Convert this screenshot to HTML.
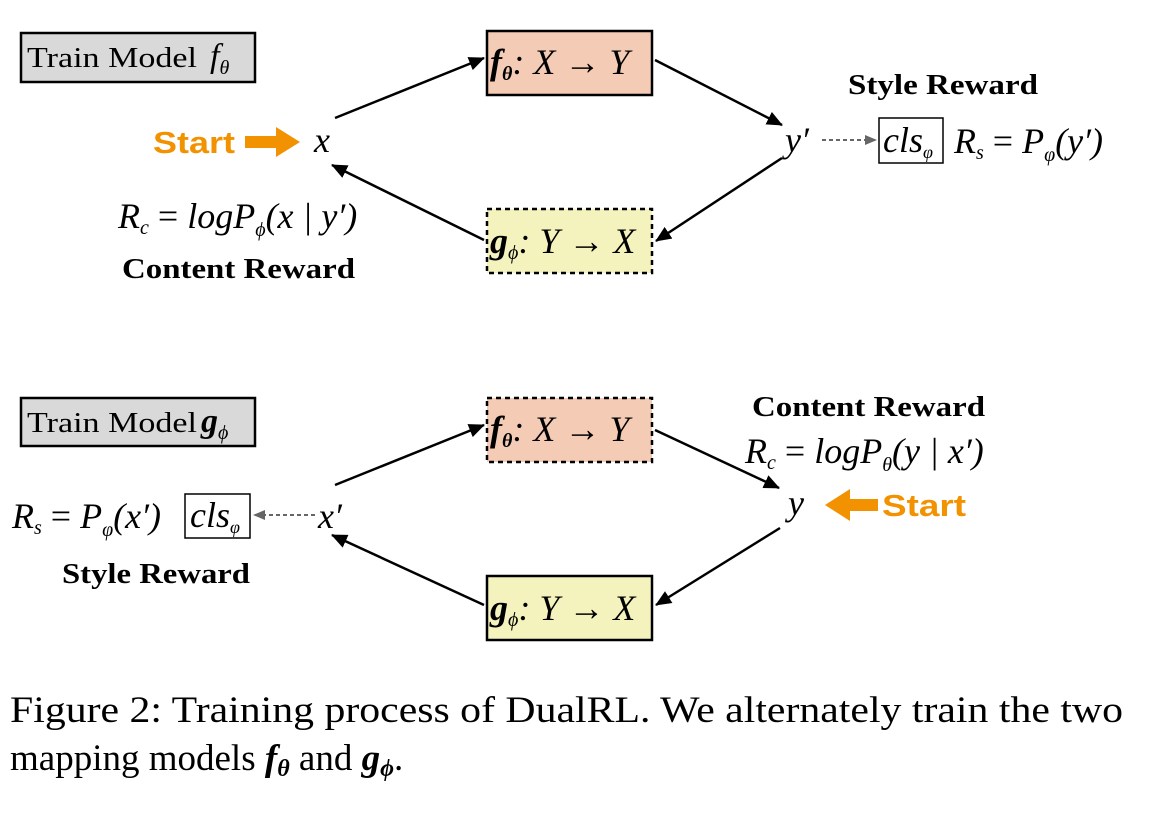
<!DOCTYPE html>
<html><head><meta charset="utf-8"><style>
html,body{margin:0;padding:0;background:#fff;}
svg{display:block;font-family:"Liberation Serif",serif;}
.m{font-style:italic;font-size:36px;}
.b{font-weight:bold;font-size:29px;}
.s{font-family:"Liberation Sans",sans-serif;font-weight:bold;fill:#f39200;font-size:31px;}
</style></head><body>
<svg width="1153" height="813" viewBox="0 0 1153 813">
<defs>
<marker id="a" markerWidth="16" markerHeight="14" refX="15" refY="7" orient="auto" markerUnits="userSpaceOnUse"><path d="M0,0 L16,7 L0,14 z" fill="#000"/></marker>
<marker id="g" markerWidth="12" markerHeight="12" refX="11" refY="6" orient="auto" markerUnits="userSpaceOnUse"><path d="M0,1 L12,6 L0,11 z" fill="#666"/></marker>
</defs>
<!-- TOP -->
<rect x="21" y="33" width="234" height="49" fill="#d9d9d9" stroke="#000" stroke-width="2.5"/>
<text x="27" y="67" font-size="29" textLength="170" lengthAdjust="spacingAndGlyphs">Train Model</text>
<text x="210" y="67" font-style="italic" font-size="34">f<tspan font-size="20" dy="7">θ</tspan></text>
<rect x="487" y="31" width="165" height="64" fill="#f4cbb5" stroke="#000" stroke-width="2.5"/>
<text x="490" y="74" class="m"><tspan font-weight="bold">f</tspan><tspan font-size="20" font-weight="bold" dy="6">θ</tspan><tspan dy="-6">: X → Y</tspan></text>
<rect x="487" y="209" width="165" height="64" fill="#f5f3bd" stroke="#000" stroke-width="2.5" stroke-dasharray="5,4"/>
<text x="490" y="253" class="m"><tspan font-weight="bold">g</tspan><tspan font-size="20" dy="6">ϕ</tspan><tspan dy="-6">: Y → X</tspan></text>
<text x="153" y="153" class="s" textLength="82" lengthAdjust="spacingAndGlyphs">Start</text>
<path d="M245,136 H276 V127 L300,142 L276,157 V148 H245z" fill="#f39200"/>
<text x="314" y="152" class="m" font-size="40">x</text>
<line x1="335" y1="118" x2="484" y2="58" stroke="#000" stroke-width="2.5" marker-end="url(#a)"/>
<line x1="484" y1="240" x2="332" y2="165" stroke="#000" stroke-width="2.5" marker-end="url(#a)"/>
<line x1="655" y1="60" x2="782" y2="125" stroke="#000" stroke-width="2.5" marker-end="url(#a)"/>
<line x1="782" y1="158" x2="656" y2="241" stroke="#000" stroke-width="2.5" marker-end="url(#a)"/>
<text x="785" y="152" class="m" font-size="42">y′</text>
<line x1="822" y1="140" x2="876" y2="140" stroke="#666" stroke-width="2" stroke-dasharray="4,3" marker-end="url(#g)"/>
<rect x="879" y="118" width="64" height="45" fill="none" stroke="#000" stroke-width="1.5"/>
<text x="883" y="152" class="m" font-size="32">cls<tspan font-size="18" dy="6">φ</tspan></text>
<text x="954" y="153" class="m">R<tspan font-size="20" dy="6">s</tspan><tspan dy="-6" font-style="normal"> = </tspan>P<tspan font-size="20" dy="8">φ</tspan><tspan dy="-8">(y′)</tspan></text>
<text x="848" y="94" class="b" textLength="190" lengthAdjust="spacingAndGlyphs">Style Reward</text>
<text x="118" y="228" class="m">R<tspan font-size="20" dy="6">c</tspan><tspan dy="-6" font-style="normal"> = </tspan>logP<tspan font-size="20" dy="8">ϕ</tspan><tspan dy="-8">(x | y′)</tspan></text>
<text x="122" y="278" class="b" textLength="233" lengthAdjust="spacingAndGlyphs">Content Reward</text>
<!-- BOTTOM -->
<rect x="21" y="398" width="234" height="48" fill="#d9d9d9" stroke="#000" stroke-width="2.5"/>
<text x="27" y="432" font-size="29" textLength="170" lengthAdjust="spacingAndGlyphs">Train Model</text>
<text x="201" y="432" font-style="italic" font-weight="bold" font-size="34">g<tspan font-weight="normal" font-size="20" dy="7">ϕ</tspan></text>
<rect x="487" y="398" width="165" height="64" fill="#f4cbb5" stroke="#000" stroke-width="2.5" stroke-dasharray="5,4"/>
<text x="490" y="441" class="m"><tspan font-weight="bold">f</tspan><tspan font-size="20" font-weight="bold" dy="6">θ</tspan><tspan dy="-6">: X → Y</tspan></text>
<rect x="487" y="576" width="165" height="64" fill="#f5f3bd" stroke="#000" stroke-width="2.5"/>
<text x="490" y="620" class="m"><tspan font-weight="bold">g</tspan><tspan font-size="20" dy="6">ϕ</tspan><tspan dy="-6">: Y → X</tspan></text>
<text x="12" y="528" class="m">R<tspan font-size="20" dy="6">s</tspan><tspan dy="-6" font-style="normal"> = </tspan>P<tspan font-size="20" dy="8">φ</tspan><tspan dy="-8">(x′)</tspan></text>
<rect x="185" y="494" width="65" height="44" fill="none" stroke="#000" stroke-width="1.5"/>
<text x="190" y="527" class="m" font-size="32">cls<tspan font-size="18" dy="6">φ</tspan></text>
<line x1="315" y1="515" x2="254" y2="515" stroke="#666" stroke-width="2" stroke-dasharray="4,3" marker-end="url(#g)"/>
<text x="318" y="528" class="m" font-size="40">x′</text>
<text x="62" y="583" class="b" textLength="188" lengthAdjust="spacingAndGlyphs">Style Reward</text>
<line x1="335" y1="485" x2="484" y2="425" stroke="#000" stroke-width="2.5" marker-end="url(#a)"/>
<line x1="484" y1="605" x2="332" y2="535" stroke="#000" stroke-width="2.5" marker-end="url(#a)"/>
<line x1="655" y1="430" x2="779" y2="488" stroke="#000" stroke-width="2.5" marker-end="url(#a)"/>
<line x1="780" y1="528" x2="656" y2="605" stroke="#000" stroke-width="2.5" marker-end="url(#a)"/>
<text x="788" y="515" class="m" font-size="42">y</text>
<path d="M878,499 H850 V489 L825,505 L850,521 V511 H878z" fill="#f39200"/>
<text x="882" y="516" class="s" textLength="84" lengthAdjust="spacingAndGlyphs">Start</text>
<text x="752" y="416" class="b" textLength="233" lengthAdjust="spacingAndGlyphs">Content Reward</text>
<text x="745" y="463" class="m">R<tspan font-size="20" dy="6">c</tspan><tspan dy="-6" font-style="normal"> = </tspan>logP<tspan font-size="20" dy="8">θ</tspan><tspan dy="-8">(y | x′)</tspan></text>
<!-- caption -->
<text x="10" y="722" font-size="37" textLength="1113" lengthAdjust="spacingAndGlyphs">Figure 2: Training process of DualRL. We alternately train the two</text>
<text x="10" y="770" font-size="37">mapping models <tspan font-style="italic" font-weight="bold">f</tspan><tspan font-style="italic" font-weight="bold" font-size="24" dy="6">θ</tspan><tspan dy="-6"> and </tspan><tspan font-style="italic" font-weight="bold">g</tspan><tspan font-style="italic" font-weight="bold" font-size="24" dy="6">ϕ</tspan><tspan dy="-6">.</tspan></text>
</svg>
</body></html>
